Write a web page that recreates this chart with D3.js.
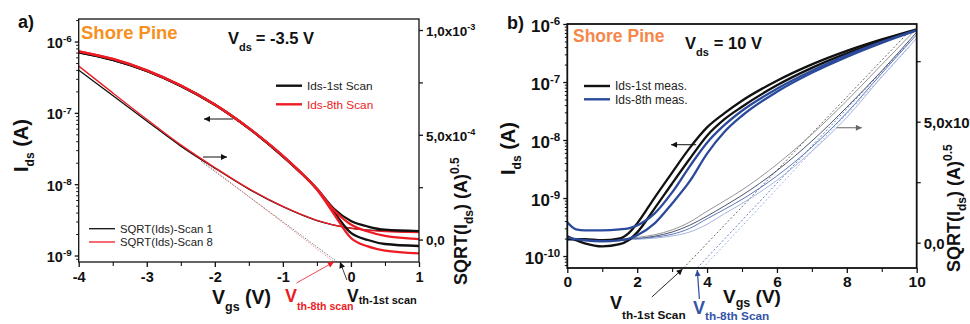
<!DOCTYPE html>
<html><head><meta charset="utf-8">
<script src="https://cdn.jsdelivr.net/npm/d3@7"></script>
<style>
body{margin:0;background:#fff}
svg{display:block}
text{font-family:"Liberation Sans",Arial,sans-serif}
</style>
</head><body>
<svg id="c" width="970" height="324"></svg>
<script>
// ---------------- DATA: panel a (Vds = -3.5 V) ----------------
const vgsA = [-4, -3.5, -3, -2.5, -2, -1.5, -1, -0.75, -0.5, -0.25, 0, 0.25, 0.5, 1];
const idsA1stFwd = [7.06e-7, 5.53e-7, 3.88e-7, 2.39e-7, 1.30e-7, 6.07e-8, 2.46e-8, 1.49e-8, 8.61e-9, 4.52e-9, 3.05e-9, 2.55e-9, 2.3e-9, 2.2e-9];
const idsA1stRev = [7.06e-7, 5.53e-7, 3.88e-7, 2.39e-7, 1.30e-7, 6.07e-8, 2.46e-8, 1.49e-8, 8.5e-9, 4.07e-9, 2.07e-9, 1.65e-9, 1.45e-9, 1.36e-9];
const idsA8thFwd = [7.3e-7, 5.7e-7, 3.95e-7, 2.42e-7, 1.31e-7, 6.1e-8, 2.5e-8, 1.5e-8, 8.6e-9, 4.35e-9, 2.72e-9, 2.17e-9, 1.88e-9, 1.7e-9];
const idsA8thRev = [7.3e-7, 5.7e-7, 3.95e-7, 2.42e-7, 1.31e-7, 6.1e-8, 2.5e-8, 1.5e-8, 8.4e-9, 3.82e-9, 1.76e-9, 1.34e-9, 1.17e-9, 1.07e-9];
const vgsSqrtA = [-4, -3.5, -3, -2.5, -2, -1.5, -1, -0.5, 0, 0.5, 1];
const sqrtA1st = [8.09e-4, 6.87e-4, 5.66e-4, 4.46e-4, 3.41e-4, 2.41e-4, 1.57e-4, 0.91e-4, 0.55e-4, 0.41e-4, 0.37e-4];
const sqrtA8th = [8.28e-4, 7.0e-4, 5.74e-4, 4.52e-4, 3.44e-4, 2.43e-4, 1.58e-4, 0.92e-4, 0.53e-4, 0.38e-4, 0.33e-4];
const fitA1st = [[-2.2, 3.73e-4], [-0.2, -1.07e-4]];
const fitA8th = [[-2.2, 3.8e-4], [-0.25, -1.07e-4]];
const xTicksA = [-4, -3, -2, -1, 0, 1];
const yTicksA = [1e-9, 1e-8, 1e-7, 1e-6];
const rTicksA = [0, 5e-4, 1e-3];
const rLabelsA = [["0,0", ""], ["5,0x10", "-4"], ["1,0x10", "-3"]];

// ---------------- DATA: panel b (Vds = 10 V) ----------------
const vgsB = [0, 0.25, 0.5, 1, 1.5, 1.75, 2, 2.5, 3, 3.5, 4, 4.5, 5, 6, 7, 8, 9, 10];
const idsB1stA = [1.95e-10, 1.95e-10, 1.95e-10, 1.87e-10, 2.02e-10, 2.47e-10, 3.66e-10, 1.02e-9, 2.75e-9, 7.26e-9, 1.65e-8, 2.9e-8, 4.75e-8, 1.05e-7, 2.01e-7, 3.44e-7, 5.42e-7, 8.11e-7];
const idsB1stB = [2.19e-10, 1.87e-10, 1.66e-10, 1.47e-10, 1.60e-10, 1.87e-10, 2.56e-10, 6.62e-10, 1.78e-9, 4.70e-9, 1.19e-8, 2.29e-8, 3.75e-8, 8.77e-8, 1.75e-7, 3.11e-7, 5.11e-7, 7.94e-7];
const idsB8thA = [3.81e-10, 2.88e-10, 2.77e-10, 2.77e-10, 2.88e-10, 3.0e-10, 3.38e-10, 5.43e-10, 1.25e-9, 3.49e-9, 9.0e-9, 1.82e-8, 3.20e-8, 7.64e-8, 1.56e-7, 2.88e-7, 4.91e-7, 7.89e-7];
const idsB8thB = [2.10e-10, 1.95e-10, 1.87e-10, 1.80e-10, 1.87e-10, 1.98e-10, 2.28e-10, 3.66e-10, 8.07e-10, 1.93e-9, 5.83e-9, 1.39e-8, 2.62e-8, 6.79e-8, 1.44e-7, 2.71e-7, 4.72e-7, 7.73e-7];
const vgsSqrtB = [0, 1, 2, 2.5, 3, 3.5, 4, 4.5, 5, 6, 7, 8, 9, 10];
const sqrtB1stA = [0.12e-4, 0.13e-4, 0.22e-4, 0.33e-4, 0.53e-4, 0.85e-4, 1.30e-4, 1.73e-4, 2.18e-4, 3.24e-4, 4.48e-4, 5.87e-4, 7.36e-4, 8.85e-4];
const sqrtB1stB = [0.10e-4, 0.10e-4, 0.17e-4, 0.27e-4, 0.44e-4, 0.72e-4, 1.10e-4, 1.52e-4, 1.96e-4, 2.98e-4, 4.20e-4, 5.60e-4, 7.10e-4, 8.70e-4];
const sqrtB8thA = [0.11e-4, 0.11e-4, 0.16e-4, 0.23e-4, 0.35e-4, 0.59e-4, 0.99e-4, 1.38e-4, 1.79e-4, 2.76e-4, 3.95e-4, 5.37e-4, 7.00e-4, 8.60e-4];
const sqrtB8thB = [0.09e-4, 0.09e-4, 0.14e-4, 0.19e-4, 0.28e-4, 0.44e-4, 0.76e-4, 1.20e-4, 1.62e-4, 2.58e-4, 3.78e-4, 5.18e-4, 6.85e-4, 8.45e-4];
const fitB1st = [[3.33, -1.045e-4], [9.8, 8.75e-4]];
const fitB8thA = [[3.72, -1.045e-4], [9.8, 8.3e-4]];
const fitB8thB = [[3.88, -1.045e-4], [9.8, 8.1e-4]];
const xTicksB = [0, 2, 4, 6, 8, 10];
const yTicksB = [1e-10, 1e-9, 1e-8, 1e-7, 1e-6];
const rTicksB = [0, 5e-4];
const rLabelsB = [["0,0", ""], ["5,0x10", "-4"]];

// ---------------- SETUP ----------------
const svg = d3.select('#c');
const RED = '#ed1c24', BLUE = '#2c4a9c', ORANGE_A = '#f7901e', ORANGE_B = '#f5874c';
const defs = svg.append('defs');
function marker(id, color) {
  defs.append('marker').attr('id', id).attr('viewBox', '0 0 10 10').attr('refX', 10).attr('refY', 5)
    .attr('markerWidth', 7).attr('markerHeight', 6).attr('markerUnits', 'userSpaceOnUse').attr('orient', 'auto')
    .append('path').attr('d', 'M0,0L10,5L0,10Z').attr('fill', color);
}
marker('arK', '#111'); marker('arR', RED); marker('arB', BLUE); marker('arG', '#666');

const zip = (a, b) => a.map((v, i) => [v, b[i]]);
const minorLog = (lo, hi) => { const o = []; for (let e = Math.floor(Math.log10(lo)); e <= Math.ceil(Math.log10(hi)); e++) for (let m = 2; m <= 9; m++) { const v = m * Math.pow(10, e); if (v >= lo && v <= hi) o.push(v); } return o; };

function supText(sel, parts) {
  sel.text(null);
  sel.append('tspan').text(parts[0]);
  if (parts[1]) sel.append('tspan').attr('dy', '-0.6em').attr('font-size', '0.68em').text(parts[1]);
}
function styleAxis(g, w) {
  g.select('.domain').remove();
  g.selectAll('.tick line').attr('stroke', '#111').attr('stroke-width', w);
  g.selectAll('.tick text').attr('fill', '#111').attr('font-weight', 'bold');
}

function panel(cfg) {
  const { x, y, r, frameW } = cfg;
  const [x0, x1] = x.range(), [y1, y0] = y.range();
  const g = svg.append('g');
  const clipId = 'clip' + cfg.id;
  defs.append('clipPath').attr('id', clipId).append('rect').attr('x', x0).attr('y', y0).attr('width', x1 - x0).attr('height', y1 - y0);
  const plot = g.append('g').attr('clip-path', `url(#${clipId})`);

  const bottom = g.append('g').attr('transform', `translate(0,${y1})`)
    .call(d3.axisBottom(x).tickValues(cfg.xMinor).tickSize(4).tickFormat(''));
  styleAxis(bottom, 1.1);
  const bottomMaj = g.append('g').attr('transform', `translate(0,${y1})`)
    .call(d3.axisBottom(x).tickValues(cfg.xTicks).tickSize(5).tickPadding(cfg.bPad).tickFormat(d3.format('d')));
  styleAxis(bottomMaj, 1.3);
  bottomMaj.selectAll('.tick text').attr('font-size', cfg.bFs).text(d => d < 0 ? '-' + Math.abs(d) : d);

  const leftMin = g.append('g').attr('transform', `translate(${x0},0)`)
    .call(d3.axisLeft(y).tickValues(minorLog(y.domain()[0], y.domain()[1])).tickSize(2.5).tickFormat(''));
  styleAxis(leftMin, 1);
  const left = g.append('g').attr('transform', `translate(${x0},0)`)
    .call(d3.axisLeft(y).tickValues(cfg.yTicks).tickSize(4).tickPadding(3).tickFormat(() => ''));
  styleAxis(left, 1.3);
  left.selectAll('.tick text').attr('font-size', cfg.tickFs).attr('dy', '0.42em')
    .each(function (d) { supText(d3.select(this), ['10', String(Math.round(Math.log10(d)))]); });

  const right = g.append('g').attr('transform', `translate(${x1},0)`)
    .call(d3.axisRight(r).tickValues(cfg.rMinor).tickSize(4).tickFormat(''));
  styleAxis(right, 1.2);
  const rightMaj = g.append('g').attr('transform', `translate(${x1},0)`)
    .call(d3.axisRight(r).tickValues(cfg.rTicks).tickSize(4).tickPadding(3).tickFormat(() => ''));
  styleAxis(rightMaj, 1.3);
  rightMaj.selectAll('.tick text').attr('font-size', cfg.rFs).attr('dy', '0.4em')
    .each(function (d, i) { supText(d3.select(this), cfg.rLabels[i]); });

  g.append('rect').attr('x', x0).attr('y', y0).attr('width', x1 - x0).attr('height', y1 - y0)
    .attr('fill', 'none').attr('stroke', '#111').attr('stroke-width', frameW);
  return { g, plot };
}

const lineL = (xS, yS) => d3.line().x(d => xS(d[0])).y(d => yS(d[1])).curve(d3.curveMonotoneX);

// ================= PANEL A =================
const xa = d3.scaleLinear([-4, 1], [78.7, 419]);
const ya = d3.scaleLog([8.11e-10, 2.07e-6], [262, 19]);
const ra = d3.scaleLinear([-1.07e-4, 1.0525e-3], [262, 19]);
const A = panel({ id: 'a', x: xa, y: ya, r: ra, frameW: 1.3, xTicks: xTicksA, xMinor: d3.range(-3.5, 1, 1),
  yTicks: yTicksA, rTicks: rTicksA, rMinor: [2.5e-4, 7.5e-4], rLabels: rLabelsA, tickFs: 14.5, bFs: 14.5, rFs: 13.5, bPad: 5 });

A.plot.append('path').attr('d', d3.line().x(d => xa(d[0])).y(d => ra(d[1]))(fitA1st)).attr('fill', 'none').attr('stroke', '#555').attr('stroke-width', 0.8).attr('stroke-dasharray', '1.5,1.5');
A.plot.append('path').attr('d', d3.line().x(d => xa(d[0])).y(d => ra(d[1]))(fitA8th)).attr('fill', 'none').attr('stroke', '#f07070').attr('stroke-width', 0.8).attr('stroke-dasharray', '1.5,1.5');
A.plot.append('path').attr('d', lineL(xa, ra)(zip(vgsSqrtA, sqrtA1st))).attr('fill', 'none').attr('stroke', '#111').attr('stroke-width', 1.3);
A.plot.append('path').attr('d', lineL(xa, ra)(zip(vgsSqrtA, sqrtA8th))).attr('fill', 'none').attr('stroke', RED).attr('stroke-width', 1.3);
[[idsA1stFwd, '#111'], [idsA1stRev, '#111'], [idsA8thFwd, RED], [idsA8thRev, RED]].forEach(([arr, c]) => {
  A.plot.append('path').attr('d', lineL(xa, ya)(zip(vgsA, arr))).attr('fill', 'none').attr('stroke', c).attr('stroke-width', 2.3);
});

svg.append('line').attr('x1', xa(-1.733)).attr('x2', xa(-2.159)).attr('y1', ya(8.2e-8)).attr('y2', ya(8.2e-8)).attr('stroke', '#111').attr('stroke-width', 1).attr('marker-end', 'url(#arK)');
svg.append('line').attr('x1', xa(-2.174)).attr('x2', xa(-1.821)).attr('y1', ra(3.94e-4)).attr('y2', ra(3.94e-4)).attr('stroke', '#111').attr('stroke-width', 1).attr('marker-end', 'url(#arK)');
svg.append('line').attr('x1', xa(-0.8)).attr('y1', 283).attr('x2', xa(-0.25)).attr('y2', 262).attr('stroke', RED).attr('stroke-width', 0.8).attr('marker-end', 'url(#arR)');
svg.append('line').attr('x1', xa(-0.06)).attr('y1', 280).attr('x2', xa(-0.16)).attr('y2', 262).attr('stroke', '#111').attr('stroke-width', 0.8).attr('marker-end', 'url(#arK)');

svg.append('text').attr('x', 18).attr('y', 28).attr('font-size', 18).attr('font-weight', 'bold').attr('fill', '#111').text('a)');
svg.append('text').attr('x', 81).attr('y', 39).attr('font-size', 18.5).attr('font-weight', 'bold').attr('fill', ORANGE_A).text('Shore Pine');
(function () {
  const t = svg.append('text').attr('x', 228).attr('y', 43.5).attr('font-size', 16.5).attr('font-weight', 'bold').attr('fill', '#111');
  t.append('tspan').text('V');
  t.append('tspan').attr('dy', 7).attr('font-size', 11).text('ds');
  t.append('tspan').attr('dy', -7).attr('dx', 4).text('= -3.5 V');
})();
[[85.7, '#111', 'Ids-1st Scan', '#222'], [104.3, RED, 'Ids-8th Scan', RED]].forEach(([yy, c, label, tc]) => {
  svg.append('line').attr('x1', 276).attr('x2', 302).attr('y1', yy).attr('y2', yy).attr('stroke', c).attr('stroke-width', 2.4);
  svg.append('text').attr('x', 307).attr('y', yy + 4.3).attr('font-size', 11.8).attr('fill', tc).text(label);
});
[[228.7, '#111', 'SQRT(Ids)-Scan 1'], [242, RED, 'SQRT(Ids)-Scan 8']].forEach(([yy, c, label]) => {
  svg.append('line').attr('x1', 89).attr('x2', 115).attr('y1', yy).attr('y2', yy).attr('stroke', c).attr('stroke-width', 1.3);
  svg.append('text').attr('x', 120).attr('y', yy + 4.2).attr('font-size', 11.3).attr('fill', '#222').text(label);
});
(function () {
  const t = svg.append('text').attr('transform', 'translate(28,172) rotate(-90)').attr('font-size', 20).attr('font-weight', 'bold').attr('fill', '#111');
  t.append('tspan').text('I');
  t.append('tspan').attr('dy', 6).attr('font-size', 12).text('ds');
  t.append('tspan').attr('dy', -6).text(' (A)');
  const r2 = svg.append('text').attr('transform', 'translate(467,285) rotate(-90)').attr('font-size', 18).attr('font-weight', 'bold').attr('fill', '#111');
  r2.append('tspan').text('SQRT(I');
  r2.append('tspan').attr('dy', 6).attr('font-size', 12).text('ds');
  r2.append('tspan').attr('dy', -6).text(') (A)');
  r2.append('tspan').attr('dy', -8).attr('font-size', 12).text('0.5');
  const xt = svg.append('text').attr('x', 212).attr('y', 304).attr('font-size', 19.5).attr('font-weight', 'bold').attr('fill', '#111');
  xt.append('tspan').text('V');
  xt.append('tspan').attr('dy', 7).attr('font-size', 12.5).text('gs');
  xt.append('tspan').attr('dy', -7).text(' (V)');
  const v1 = svg.append('text').attr('x', 285).attr('y', 302).attr('font-weight', 'bold').attr('fill', RED);
  v1.append('tspan').attr('font-size', 18).text('V');
  v1.append('tspan').attr('dy', 8).attr('font-size', 10.6).text('th-8th scan');
  const v2 = svg.append('text').attr('x', 347).attr('y', 301.5).attr('font-weight', 'bold').attr('fill', '#111');
  v2.append('tspan').attr('font-size', 17.5).text('V');
  v2.append('tspan').attr('dy', 2).attr('font-size', 11).text('th-1st scan');
})();

// ================= PANEL B =================
const xb = d3.scaleLinear([0, 10], [567.3, 916.7]);
const yb = d3.scaleLog([6.22e-11, 1e-6], [268, 24]);
const rb = d3.scaleLinear([-1.045e-4, 9.037e-4], [268, 24]);
const B = panel({ id: 'b', x: xb, y: yb, r: rb, frameW: 1.8, xTicks: xTicksB, xMinor: d3.range(1, 10, 2),
  yTicks: yTicksB, rTicks: rTicksB, rMinor: [2.5e-4, 7.5e-4], rLabels: rLabelsB, tickFs: 17, bFs: 15.5, rFs: 15, bPad: 3 });

[[fitB1st, '#444'], [fitB8thA, '#3d5fb0'], [fitB8thB, '#8ea2d6']].forEach(([f, c]) => {
  B.plot.append('path').attr('d', d3.line().x(d => xb(d[0])).y(d => rb(d[1]))(f)).attr('fill', 'none').attr('stroke', c).attr('stroke-width', 0.8).attr('stroke-dasharray', '2,2');
});
[[sqrtB1stA, '#888'], [sqrtB1stB, '#3a3f5a'], [sqrtB8thA, '#4a68b5'], [sqrtB8thB, '#9aabd9']].forEach(([arr, c]) => {
  B.plot.append('path').attr('d', lineL(xb, rb)(zip(vgsSqrtB, arr))).attr('fill', 'none').attr('stroke', c).attr('stroke-width', 0.9);
});
[[idsB1stA, '#111'], [idsB1stB, '#111'], [idsB8thA, BLUE], [idsB8thB, BLUE]].forEach(([arr, c]) => {
  B.plot.append('path').attr('d', lineL(xb, yb)(zip(vgsB, arr))).attr('fill', 'none').attr('stroke', c).attr('stroke-width', 2.3);
});
svg.append('line').attr('x1', xb(3.69)).attr('x2', xb(2.97)).attr('y1', yb(8.3e-9)).attr('y2', yb(8.3e-9)).attr('stroke', '#111').attr('stroke-width', 1).attr('marker-end', 'url(#arK)');
svg.append('line').attr('x1', xb(7.71)).attr('x2', xb(8.43)).attr('y1', rb(4.75e-4)).attr('y2', rb(4.75e-4)).attr('stroke', '#666').attr('stroke-width', 1).attr('marker-end', 'url(#arG)');
svg.append('line').attr('x1', xb(2.42)).attr('y1', 297).attr('x2', xb(3.3)).attr('y2', 269).attr('stroke', '#111').attr('stroke-width', 0.9).attr('marker-end', 'url(#arK)');
svg.append('line').attr('x1', xb(3.78)).attr('y1', 299).attr('x2', xb(3.72)).attr('y2', 270).attr('stroke', BLUE).attr('stroke-width', 1.2).attr('marker-end', 'url(#arB)');

svg.append('text').attr('x', 507).attr('y', 29).attr('font-size', 18).attr('font-weight', 'bold').attr('fill', '#111').text('b)');
svg.append('text').attr('x', 573).attr('y', 41.7).attr('font-size', 17.5).attr('font-weight', 'bold').attr('fill', ORANGE_B).text('Shore Pine');
(function () {
  const t = svg.append('text').attr('x', 685).attr('y', 49.3).attr('font-size', 16.5).attr('font-weight', 'bold').attr('fill', '#111');
  t.append('tspan').text('V');
  t.append('tspan').attr('dy', 7).attr('font-size', 11).text('ds');
  t.append('tspan').attr('dy', -7).attr('dx', 5).text('= 10 V');
})();
[[86, '#111', 'Ids-1st meas.'], [99.3, BLUE, 'Ids-8th meas.']].forEach(([yy, c, label]) => {
  svg.append('line').attr('x1', 584).attr('x2', 610).attr('y1', yy).attr('y2', yy).attr('stroke', c).attr('stroke-width', 2.4);
  svg.append('text').attr('x', 615).attr('y', yy + 4.3).attr('font-size', 12).attr('fill', '#222').text(label);
});
(function () {
  const t = svg.append('text').attr('transform', 'translate(515,175) rotate(-90)').attr('font-size', 20).attr('font-weight', 'bold').attr('fill', '#111');
  t.append('tspan').text('I');
  t.append('tspan').attr('dy', 6).attr('font-size', 12).text('ds');
  t.append('tspan').attr('dy', -6).text(' (A)');
  const r2 = svg.append('text').attr('transform', 'translate(960,272) rotate(-90)').attr('font-size', 18).attr('font-weight', 'bold').attr('fill', '#111');
  r2.append('tspan').text('SQRT(I');
  r2.append('tspan').attr('dy', 6).attr('font-size', 12).text('ds');
  r2.append('tspan').attr('dy', -6).text(') (A)');
  r2.append('tspan').attr('dy', -8).attr('font-size', 12).text('0.5');
  const xt = svg.append('text').attr('x', 723).attr('y', 303).attr('font-size', 19).attr('font-weight', 'bold').attr('fill', '#111');
  xt.append('tspan').text('V');
  xt.append('tspan').attr('dy', 4).attr('font-size', 12.5).text('gs');
  xt.append('tspan').attr('dy', -4).text(' (V)');
  const v1 = svg.append('text').attr('x', 610).attr('y', 308.7).attr('font-weight', 'bold').attr('fill', '#111');
  v1.append('tspan').attr('font-size', 18).text('V');
  v1.append('tspan').attr('dy', 10).attr('font-size', 11.8).text('th-1st Scan');
  const v2 = svg.append('text').attr('x', 693).attr('y', 313.7).attr('font-weight', 'bold').attr('fill', '#3355a8');
  v2.append('tspan').attr('font-size', 18).text('V');
  v2.append('tspan').attr('dy', 6.6).attr('font-size', 11.8).text('th-8th Scan');
})();
</script>
</body></html>
